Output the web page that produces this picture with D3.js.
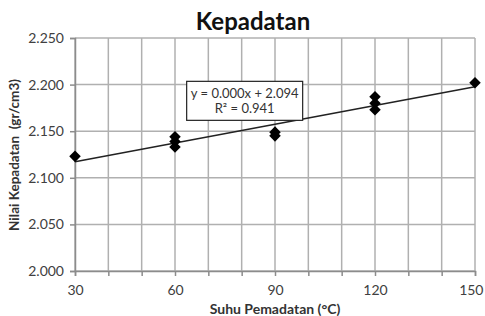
<!DOCTYPE html>
<html>
<head>
<meta charset="utf-8">
<script src="https://cdn.jsdelivr.net/npm/d3@7"></script>
<style>
body { margin: 0; background: #fff; }
svg text { font-family: Lato, "Open Sans", sans-serif; }
</style>
</head>
<body>
<div id="app"></div>
<script>
// values
const suhu = [30, 60, 60, 60, 90, 90, 120, 120, 120, 150];
const kepadatan = [2.123, 2.144, 2.139, 2.133, 2.149, 2.145, 2.187, 2.180, 2.173, 2.202];
const xTicks = [30, 60, 90, 120, 150];
const yTicks = [2.000, 2.050, 2.100, 2.150, 2.200, 2.250];
const eqLines = ['y = 0.000x + 2.094', 'R² = 0.941'];

const margin = { top: 38, right: 10, bottom: 45, left: 75 },
	width = 485 - margin.left - margin.right,
	height = 316 - margin.top - margin.bottom;

const svg = d3.select('#app').append('svg')
	.attr('width', 485)
	.attr('height', 316);

const g = svg.append('g')
	.attr('transform', `translate(${margin.left},${margin.top})`);

const x = d3.scaleLinear().domain([30, 150]).range([0, width]);
const y = d3.scaleLinear().domain([2.0, 2.25]).range([height, 0]);

// grid
g.append('g').selectAll('line')
	.data(d3.range(30, 151, 10))
	.join('line')
	.attr('x1', d => x(d)).attr('x2', d => x(d))
	.attr('y1', 0).attr('y2', height)
	.attr('stroke', '#b0b0b0').attr('stroke-width', 1.5);
g.append('g').selectAll('line')
	.data(yTicks)
	.join('line')
	.attr('x1', 0).attr('x2', width)
	.attr('y1', d => y(d)).attr('y2', d => y(d))
	.attr('stroke', '#b0b0b0').attr('stroke-width', 1.5);

// axes
const yAxis = d3.axisLeft(y).tickValues(yTicks).tickSize(5).tickPadding(6).tickFormat(d3.format('.3f'));
const ya = g.append('g').call(yAxis);
const xAxis = d3.axisBottom(x).tickValues(d3.range(30, 151, 10)).tickSize(5).tickPadding(9)
	.tickFormat(d => xTicks.includes(d) ? d : '');
const xa = g.append('g').attr('transform', `translate(0,${height})`).call(xAxis);
[ya, xa].forEach(a => {
	a.select('.domain').attr('stroke', '#8c8c8c').attr('stroke-width', 1.5);
	a.selectAll('.tick line').attr('stroke', '#8c8c8c').attr('stroke-width', 1.5);
	a.selectAll('.tick text').attr('fill', '#404040').style('font-size', '14px');
});
// last label sits on the edge
xa.selectAll('.tick text').filter(d => d === 150).attr('text-anchor', 'end').attr('dx', '8');

// trendline (least squares)
const mx = d3.mean(suhu), my = d3.mean(kepadatan);
const slope = d3.sum(suhu, (d, i) => (d - mx) * (kepadatan[i] - my)) / d3.sum(suhu, d => (d - mx) ** 2);
const icpt = my - slope * mx;
g.append('line')
	.attr('x1', x(30)).attr('x2', x(150))
	.attr('y1', y(icpt + slope * 30)).attr('y2', y(icpt + slope * 150))
	.attr('stroke', '#222').attr('stroke-width', 1.5);

// markers
g.selectAll('path.pt')
	.data(suhu.map((d, i) => [d, kepadatan[i]]))
	.join('path')
	.attr('class', 'pt')
	.attr('transform', d => `translate(${x(d[0])},${y(d[1])})`)
	.attr('d', d3.symbol(d3.symbolDiamond2, 85))
	.attr('fill', '#000');

// equation box
const bx = x(63.5), by = y(2.2035);
g.append('rect')
	.attr('x', bx).attr('y', by)
	.attr('width', 116).attr('height', 39)
	.attr('fill', '#fff').attr('stroke', '#222').attr('stroke-width', 1.2);
g.selectAll('text.eq')
	.data(eqLines)
	.join('text')
	.attr('class', 'eq')
	.attr('x', bx + 58)
	.attr('y', (d, i) => by + 17 + i * 15)
	.attr('text-anchor', 'middle')
	.attr('fill', '#333')
	.style('font-size', '13px')
	.text(d => d);

// titles
svg.append('text')
	.attr('x', 253).attr('y', 30)
	.attr('text-anchor', 'middle')
	.style('font-size', '24px').style('font-weight', 'bold')
	.attr('fill', '#111')
	.text('Kepadatan');
svg.append('text')
	.attr('x', 275).attr('y', 314)
	.attr('text-anchor', 'middle')
	.style('font-size', '14px').style('font-weight', 'bold')
	.attr('fill', '#333')
	.text('Suhu Pemadatan (°C)');
svg.append('text')
	.attr('transform', 'translate(19,155) rotate(-90)')
	.attr('text-anchor', 'middle')
	.style('font-size', '13.5px').style('font-weight', 'bold')
	.attr('fill', '#333')
	.attr('xml:space', 'preserve')
	.text('Nilai Kepadatan  (gr/cm3)');
</script>
</body>
</html>
